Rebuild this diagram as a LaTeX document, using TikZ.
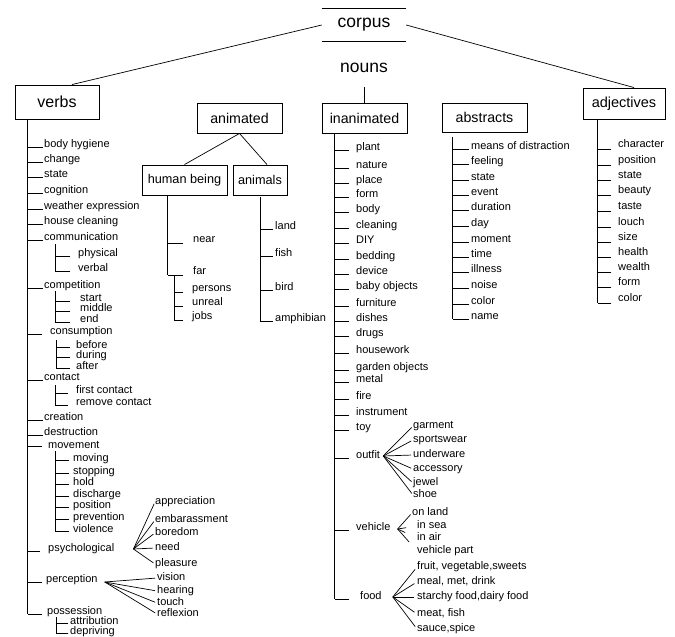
\documentclass[tikz,border=0pt]{standalone}
\usepackage{fontspec}
\setmainfont{Liberation Sans}
\newcommand\mybranch[5]{%
  \foreach \nm/\y/\tx in {#5} {
    \node[item] (\nm) at (#2,\y) {\tx};
    \draw[conn] ([xshift=-#3pt,yshift=-#4pt]\nm.west) -- ([yshift=-#4pt]\nm.west -| #1);
  }%
}
\newcommand\myfan[4]{% origin, text x, shorten, list
  \foreach \nm/\y/\tx in {#4} {
    \node[item] (\nm) at (#2,\y) {\tx};
    \draw[conn,shorten >=#3pt] (#1) -- (\nm.west);
  }%
}
\begin{document}
\begin{tikzpicture}[x=1pt,y=-1pt,
  conn/.style={line width=0.7pt},
  item/.style={anchor=west,inner sep=0pt,font=\fontsize{11}{12}\selectfont,text height=7.9pt,text depth=2.3pt},
  bx/.style={draw,line width=0.9pt,inner sep=0pt,minimum height=30pt},
  big/.style={inner sep=0pt,font=\fontsize{17.5}{18}\selectfont},
]
\useasboundingbox (0,0) rectangle (675,637);

% ---- top ----
\node[big,minimum width=84pt,minimum height=32pt] (corpus) at (364,25) {corpus};
\draw[conn] (corpus.north west) -- (corpus.north east);
\draw[conn] (corpus.south west) -- (corpus.south east);
\node[big,minimum height=38pt] (nouns) at (364,68) {nouns};

\node[bx,minimum width=84pt,minimum height=34pt,font=\fontsize{16}{17}\selectfont] (verbs) at (57,102) {verbs};
\node[bx,minimum width=82pt,minimum height=31pt,font=\fontsize{14.5}{15}\selectfont] (adj) at (624,103.5) {adjectives};
\node[bx,minimum width=85pt,font=\fontsize{14.2}{15}\selectfont] (anim) at (239.5,118) {animated};
\node[bx,minimum width=85pt,font=\fontsize{14.2}{15}\selectfont] (inan) at (364.5,118) {inanimated};
\node[bx,minimum width=85pt,minimum height=29pt,font=\fontsize{14.2}{15}\selectfont] (abst) at (484.5,117.5) {abstracts};
\node[bx,minimum width=85pt,font=\fontsize{12.7}{13}\selectfont] (human) at (184.5,180) {human being};
\node[bx,minimum width=54pt,font=\fontsize{12.7}{13}\selectfont] (animals) at (260,180) {animals};

\draw[conn] (corpus.west) -- ([xshift=15pt]verbs.north);
\draw[conn] (corpus.east) -- ([xshift=10pt]adj.north);
\draw[conn] (inan.north) -- (inan.north |- nouns.south);
\draw[conn] (anim.south) -- (human.north);
\draw[conn] (anim.south) -- ([xshift=7pt]animals.north);

% ---- verbs ----
\coordinate (vv) at ([xshift=13pt]verbs.south west);
\mybranch{vv}{44}{1}{2}{v-bh/145/body hygiene, v-ch/160/change, v-st/175/state, v-cg/191/cognition, v-we/207/weather expression, v-hc/222/house cleaning, v-cm/238/communication, v-cp/286/competition, v-ct/378/contact, v-cr/418/creation, v-de/433/destruction}
\mybranch{vv}{50}{8}{2}{v-cs/332/consumption}
\mybranch{vv}{48}{6}{0}{v-mv/446/movement}
\mybranch{vv}{48}{8}{2}{v-ps/549/psychological}
\mybranch{vv}{46}{4}{2}{v-pc/580/perception}
\mybranch{vv}{47}{5}{2}{v-po/612/possession}
\draw[conn] (vv) -- ([yshift=-2pt]v-po.west -| vv);

\coordinate (cmv) at (55,244);
\mybranch{cmv}{78}{8}{2}{v-phy/254/physical, v-verb/269/verbal}
\draw[conn] (cmv) -- ([yshift=-2pt]v-verb.west -| cmv);

\coordinate (cpv) at (55,291);
\mybranch{cpv}{80}{10}{2}{v-sta/299/start, v-mid/309/middle, v-end/320/end}
\draw[conn] (cpv) -- ([yshift=-2pt]v-end.west -| cpv);

\coordinate (csv) at (56,340);
\mybranch{csv}{76}{6}{2}{v-bef/345.5/before, v-dur/355.5/during, v-aft/366.5/after}
\draw[conn] (csv) -- ([yshift=-2pt]v-aft.west -| csv);

\coordinate (ctv) at (55,385);
\mybranch{ctv}{76}{8}{2}{v-fc/391/first contact, v-rc/403/remove contact}
\draw[conn] (ctv) -- ([yshift=-2pt]v-rc.west -| ctv);

\coordinate (mvv) at (55,451);
\mybranch{mvv}{73}{4}{1}{v-mov/459/moving, v-stp/472/stopping, v-hold/483/hold, v-dis/495/discharge, v-pos/506/position, v-prev/518/prevention, v-viol/530/violence}
\draw[conn] (mvv) -- ([yshift=-1pt]v-viol.west -| mvv);

\coordinate (pov) at (56,617);
\mybranch{pov}{70}{2}{1}{v-att/622/attribution, v-dep/632/depriving}
\draw[conn] (pov) -- ([yshift=-1pt]v-dep.west -| pov);

\coordinate (pf) at ([xshift=19pt]v-ps.east);
\myfan{pf}{155}{2}{v-app/502/appreciation, v-emb/520/embarassment, v-bor/533/boredom, v-need/548/need, v-plea/564/pleasure}
\coordinate (pcf) at ([xshift=7pt,yshift=-2pt]v-pc.east);
\myfan{pcf}{157}{2}{v-vis/578/vision, v-hear/591/hearing, v-touch/603/touch, v-refl/614/reflexion}

% ---- animated ----
\coordinate (hv) at ([xshift=26pt]human.south west);
\mybranch{hv}{193}{10}{3}{h-near/240/near, h-far/272/far}
\draw[conn] (hv) -- ([yshift=-3pt]h-far.west -| hv);
\coordinate (pv) at (174,275);
\mybranch{pv}{192}{9}{3}{h-pers/289/persons, h-unr/303/unreal, h-jobs/317/jobs}
\draw[conn] (pv) -- ([yshift=-3pt]h-jobs.west -| pv);

\coordinate (av) at ([yshift=-2pt]animals.south);
\mybranch{av}{275}{2}{2}{a-land/227/land, a-fish/254/fish, a-bird/288/bird, a-amph/319/amphibian}
\draw[conn] (av) -- ([yshift=-2pt]a-amph.west -| av);

% ---- inanimated ----
\coordinate (iv) at ([xshift=13pt]inan.south west);
\mybranch{iv}{356}{7}{2}{i-pl/148/plant, i-na/166/nature, i-plc/181/place, i-fo/195/form, i-bo/210/body, i-cl/226/cleaning, i-diy/241/DIY, i-bed/257/bedding, i-dev/272/device, i-baby/287/baby objects, i-fur/304/furniture, i-dis/319/dishes, i-dru/334/drugs, i-hw/351/housework, i-go/368/garden objects, i-met/380/metal, i-fir/397/fire, i-ins/413/instrument, i-toy/428/toy, i-out/456/outfit, i-veh/528/vehicle}
\mybranch{iv}{360}{11}{2}{i-food/597/food}
\draw[conn] (iv) -- ([yshift=-2pt]i-food.west -| iv);

\coordinate (of) at ([xshift=3pt]i-out.east);
\myfan{of}{413}{2}{o-gar/426/garment, o-spo/440/sportswear, o-und/455/underware, o-acc/469/accessory, o-jew/483/jewel, o-shoe/495/shoe}
\coordinate (vf) at ([xshift=7pt,yshift=-1pt]i-veh.east);
\myfan{vf}{412}{2}{e-land/513/on land}
\myfan{vf}{417}{11}{e-sea/526/in sea}
\myfan{vf}{417}{13}{e-air/538/in air}
\myfan{vf}{417}{12}{e-part/551/vehicle part}
\coordinate (ff) at ([xshift=11pt]i-food.east);
\myfan{ff}{417}{3}{f-fr/567/{fruit, vegetable,sweets}, f-me/582/{meal, met, drink}, f-st/597/{starchy food,dairy food}, f-mf/614/{meat, fish}, f-sa/629/{sauce,spice}}

% ---- abstracts ----
\coordinate (abv) at ([xshift=11pt,yshift=-5pt]abst.south west);
\mybranch{abv}{471}{2}{2}{b-mod/147/means of distraction, b-fee/162/feeling, b-sta/178/state, b-eve/193/event, b-dur/208/duration, b-day/224/day, b-mom/240/moment, b-tim/255/time, b-ill/270/illness, b-noi/286/noise, b-col/302/color, b-nam/317/name}
\draw[conn] (abv) -- ([yshift=-2pt]b-nam.west -| abv);

% ---- adjectives ----
\coordinate (jv) at ([xshift=15pt]adj.south west);
\mybranch{jv}{618}{7}{4}{j-cha/145/character, j-pos/161/position, j-sta/176/state, j-bea/191/beauty, j-tas/207/taste, j-lou/223/louch, j-siz/238/size, j-hea/253/health, j-wea/268/wealth, j-for/283/form, j-col/299/color}
\draw[conn] (jv) -- ([yshift=-4pt]j-col.west -| jv);
\end{tikzpicture}
\end{document}
